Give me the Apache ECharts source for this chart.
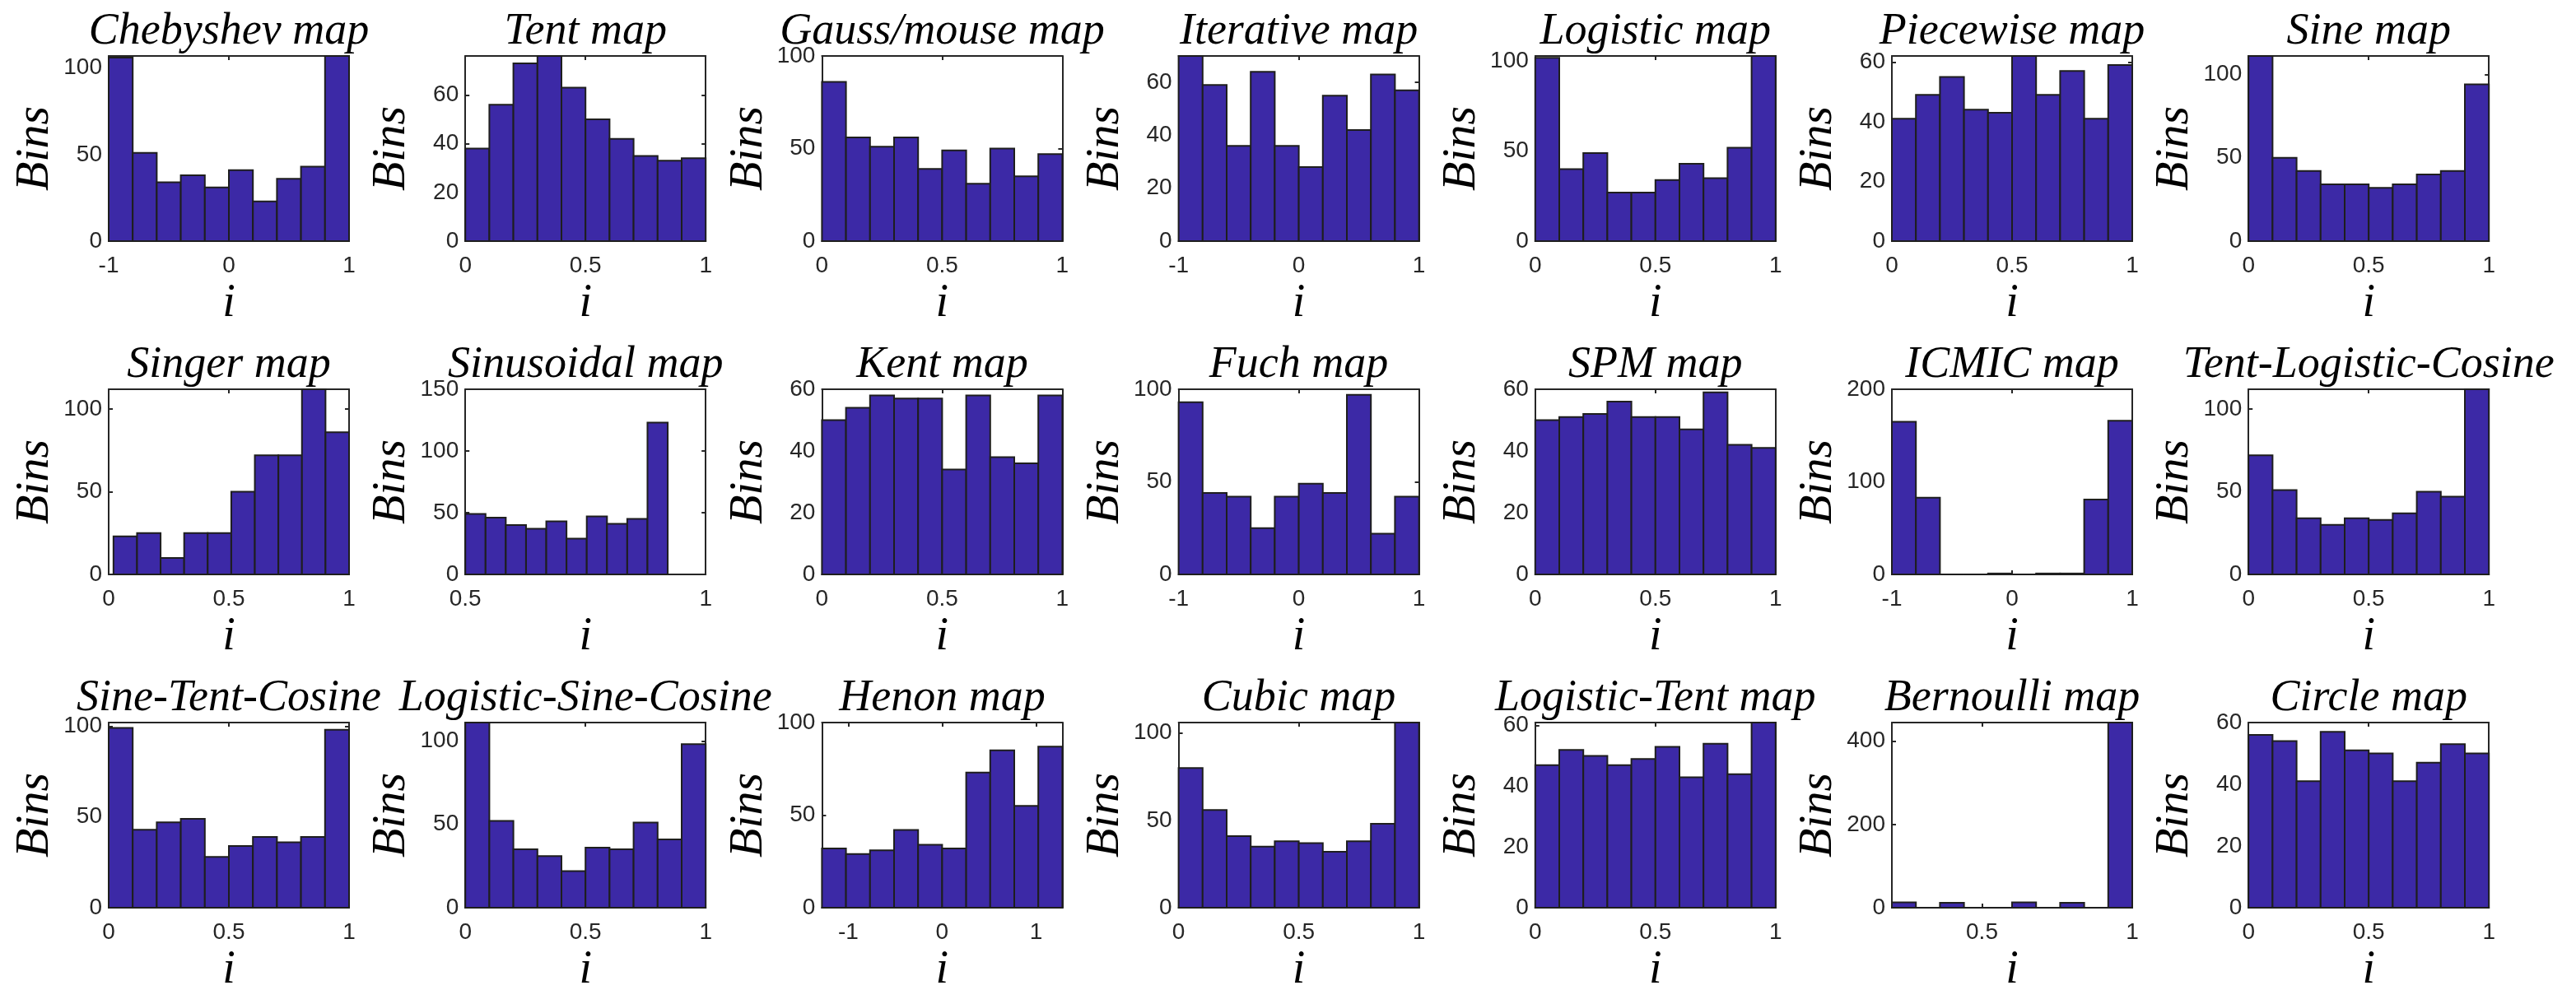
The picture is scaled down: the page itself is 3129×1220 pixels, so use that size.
<!DOCTYPE html>
<html>
<head>
<meta charset="utf-8">
<script src="https://cdn.jsdelivr.net/npm/echarts@6/dist/echarts.min.js"></script>
<style>
html,body{margin:0;padding:0;background:#fff;}
#chart{width:3129px;height:1220px;}
</style>
</head>
<body>
<div id="chart"></div>
<script>
// ---------- DATA ----------
const titles = [
  'Chebyshev map','Tent map','Gauss/mouse map','Iterative map','Logistic map','Piecewise map','Sine map',
  'Singer map','Sinusoidal map','Kent map','Fuch map','SPM map','ICMIC map','Tent-Logistic-Cosine',
  'Sine-Tent-Cosine','Logistic-Sine-Cosine','Henon map','Cubic map','Logistic-Tent map','Bernoulli map','Circle map'
];
// bin counts (10 bins each)
const chebyshev   = [106, 51, 34, 38, 31, 41, 23, 36, 43, 107];
const tent        = [38, 56, 73, 76, 63, 50, 42, 35, 33, 34];
const gaussMouse  = [86, 56, 51, 56, 39, 49, 31, 50, 35, 47];
const iterative   = [70, 59, 36, 64, 36, 28, 55, 42, 63, 57];
const logistic    = [102, 40, 49, 27, 27, 34, 43, 35, 52, 103];
const piecewise   = [41, 49, 55, 44, 43, 62, 49, 57, 41, 59];
const sine        = [111, 50, 42, 34, 34, 32, 34, 40, 42, 94];
const singer      = [23, 25, 10, 25, 25, 50, 72, 72, 112, 86];
const sinusoidal  = [49, 46, 40, 37, 43, 29, 47, 41, 45, 123];
const kent        = [50, 54, 58, 57, 57, 34, 58, 38, 36, 58];
const fuch        = [93, 44, 42, 25, 42, 49, 44, 97, 22, 42];
const spm         = [50, 51, 52, 56, 51, 51, 47, 59, 42, 41];
const icmic       = [165, 83, 0, 0, 1, 0, 1, 1, 81, 166];
const tentLogCos  = [72, 51, 34, 30, 34, 33, 37, 50, 47, 112];
const sineTentCos = [99, 43, 47, 49, 28, 34, 39, 36, 39, 98];
const logSineCos  = [111, 52, 35, 31, 22, 36, 35, 51, 41, 98];
const henon       = [32, 29, 31, 42, 34, 32, 73, 85, 55, 87];
const cubic       = [80, 56, 41, 35, 38, 37, 32, 38, 48, 106];
const logTent     = [47, 52, 50, 47, 49, 53, 43, 54, 44, 61];
const bernoulli   = [13, 0, 12, 0, 0, 13, 0, 12, 0, 445];
const circle      = [56, 54, 41, 57, 51, 50, 41, 47, 53, 50];

const counts = [chebyshev, tent, gaussMouse, iterative, logistic, piecewise, sine,
  singer, sinusoidal, kent, fuch, spm, icmic, tentLogCos,
  sineTentCos, logSineCos, henon, cubic, logTent, bernoulli, circle];

// axis ranges
const xMin = [-1,0,0,-1,0,0,0,  0,0.5,0,-1,0,-1,0,  0,0,-1.28,0,0,0.2,0];
const xMax = [ 1,1,1, 1,1,1,1,  1,1,  1, 1,1, 1,1,  1,1, 1.28,1,1,1,  1];
// histogram bin range (first edge, last edge)
const binLo = [-1,0,0,-1,0,0,0,  0.02,0.5,0,-1,0,-1,0,  0,0,-1.28,0,0,0.2,0];
const binHi = [ 1,1,1, 1,1,1,1,  1.0, 0.921,1,1,1,1,1,  1,1, 1.28,1,1,1.0,1];
const yMax = [107,76,100,70,103,62,111,  112,150,60,100,60,200,112,  102,111,100,106,61,445,60];

// tick labels
const xTicks = [
  [-1,0,1],[0,0.5,1],[0,0.5,1],[-1,0,1],[0,0.5,1],[0,0.5,1],[0,0.5,1],
  [0,0.5,1],[0.5,1],[0,0.5,1],[-1,0,1],[0,0.5,1],[-1,0,1],[0,0.5,1],
  [0,0.5,1],[0,0.5,1],[-1,0,1],[0,0.5,1],[0,0.5,1],[0.5,1],[0,0.5,1]
];
const yTicks = [
  [0,50,100],[0,20,40,60],[0,50,100],[0,20,40,60],[0,50,100],[0,20,40,60],[0,50,100],
  [0,50,100],[0,50,100,150],[0,20,40,60],[0,50,100],[0,20,40,60],[0,100,200],[0,50,100],
  [0,50,100],[0,50,100],[0,50,100],[0,50,100],[0,20,40,60],[0,200,400],[0,20,40,60]
];

// ---------- LAYOUT / STYLE ----------
const W = 292, H = 225;
const colLeft = c => 132 + 433.2 * c;
const rowTop = [68, 473, 878];
const axisColor = '#262626';
const barColor = '#3C29A6';
const tickFont = {fontFamily: 'Liberation Sans, Arial, sans-serif', fontSize: 28, color: axisColor};
const serifItalic = {fontFamily: 'Liberation Serif, Times New Roman, serif', fontStyle: 'italic', fontWeight: 'normal', color: '#000'};

const grids = [], xAxes = [], yAxes = [], series = [], title = [];
const lineStyle = {color: axisColor, width: 2};

for (let k = 0; k < 21; k++) {
  const r = Math.floor(k / 7), c = k % 7;
  const left = colLeft(c), top = rowTop[r];
  grids.push({left: left, top: top, width: W, height: H});
  title.push({
    text: titles[k], left: left + W / 2, top: top - 59, textAlign: 'center', padding: 0,
    textStyle: Object.assign({fontSize: 54, lineHeight: 60}, serifItalic)
  });
  const fmt = v => String(Math.round(v * 1000) / 1000);
  // bottom x
  xAxes.push({
    gridIndex: k, type: 'value', position: 'bottom', min: xMin[k], max: xMax[k],
    axisLine: {show: true, onZero: false, lineStyle: lineStyle},
    axisTick: {show: true, inside: true, length: 5, customValues: xTicks[k], lineStyle: lineStyle},
    axisLabel: Object.assign({show: true, margin: 16, customValues: xTicks[k], formatter: fmt}, tickFont),
    splitLine: {show: false},
    name: 'i', nameLocation: 'middle', nameGap: 48,
    nameTextStyle: Object.assign({fontSize: 56}, serifItalic)
  });
  // top x (box)
  xAxes.push({
    gridIndex: k, type: 'value', position: 'top', min: xMin[k], max: xMax[k],
    axisLine: {show: true, onZero: false, lineStyle: lineStyle},
    axisTick: {show: true, inside: true, length: 5, customValues: xTicks[k], lineStyle: lineStyle},
    axisLabel: {show: false}, splitLine: {show: false}
  });
  // left y
  yAxes.push({
    gridIndex: k, type: 'value', position: 'left', min: 0, max: yMax[k],
    axisLine: {show: true, onZero: false, lineStyle: lineStyle},
    axisTick: {show: true, inside: true, length: 5, customValues: yTicks[k], lineStyle: lineStyle},
    axisLabel: Object.assign({show: true, margin: 8, customValues: yTicks[k], formatter: fmt}, tickFont),
    splitLine: {show: false},
    name: 'Bins', nameLocation: 'middle', nameGap: 60, nameRotate: 90,
    nameTextStyle: Object.assign({fontSize: 58}, serifItalic)
  });
  // right y (box)
  yAxes.push({
    gridIndex: k, type: 'value', position: 'right', min: 0, max: yMax[k],
    axisLine: {show: true, onZero: false, lineStyle: lineStyle},
    axisTick: {show: true, inside: true, length: 5, customValues: yTicks[k], lineStyle: lineStyle},
    axisLabel: {show: false}, splitLine: {show: false}
  });
  const n = counts[k].length;
  const bw = (binHi[k] - binLo[k]) / n;
  const data = counts[k].map((v, j) => [binLo[k] + j * bw, binLo[k] + (j + 1) * bw, v]);
  series.push({
    type: 'custom', xAxisIndex: 2 * k, yAxisIndex: 2 * k,
    encode: {x: [0, 1], y: 2},
    data: data, clip: false, silent: true,
    renderItem: function (params, api) {
      const p0 = api.coord([api.value(0), api.value(2)]);
      const p1 = api.coord([api.value(1), 0]);
      return {
        type: 'rect',
        shape: {x: p0[0], y: p0[1], width: p1[0] - p0[0], height: p1[1] - p0[1]},
        style: {fill: barColor, stroke: '#1e1e1e', lineWidth: 2}
      };
    }
  });
}

const chart = echarts.init(document.getElementById('chart'), null, {renderer: 'canvas'});
chart.setOption({
  backgroundColor: '#ffffff',
  animation: false,
  title: title,
  grid: grids,
  xAxis: xAxes,
  yAxis: yAxes,
  series: series
});
</script>
</body>
</html>
